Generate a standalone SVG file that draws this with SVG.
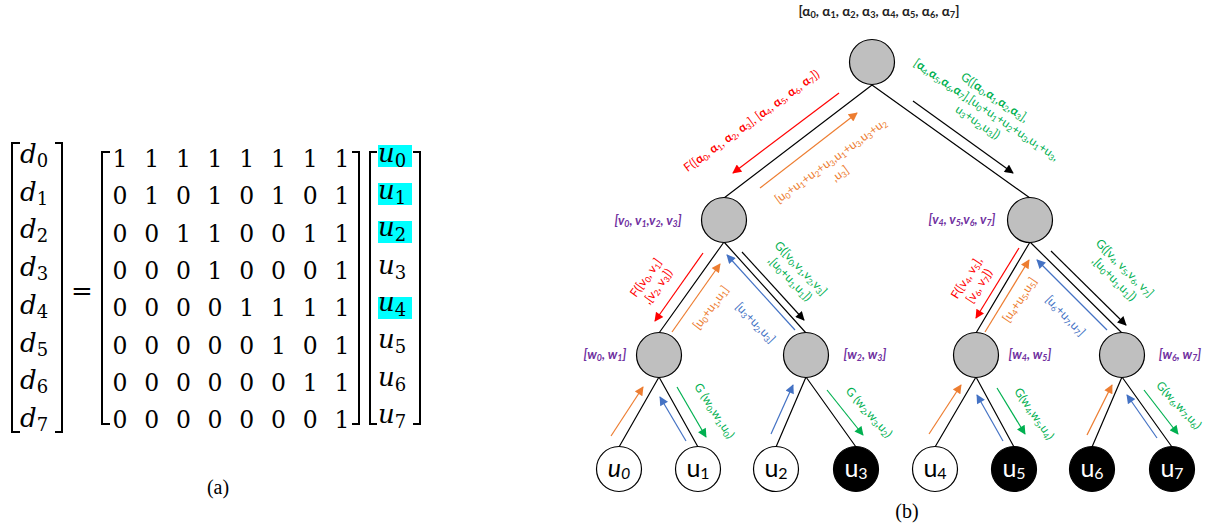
<svg xmlns="http://www.w3.org/2000/svg" width="1211" height="528" viewBox="0 0 1211 528">
<style>
.m{font-family:"DejaVu Serif",serif;fill:#000}
.mi{font-style:italic}
.br{fill:none;stroke:#000;stroke-width:2}
.hl{fill:#00FFFF}
.cap{font-family:"Liberation Serif",serif;font-size:20px;text-anchor:middle}
.edge{stroke:#000;stroke-width:1.2;fill:none}
.inner{fill:#BFBFBF;stroke:#000;stroke-width:1.2}
.lw{fill:#fff;stroke:#000;stroke-width:1.2}
.lb{fill:#000;stroke:#000;stroke-width:1.2}
.lt{font-family:Lato,"Open Sans",sans-serif;font-size:25px;text-anchor:middle}
.lt .s{font-size:64%;baseline-shift:-0.12em}
.lbl{font-family:Lato,"Open Sans",sans-serif;font-size:12px;text-anchor:middle}
.pl{font-family:Lato,"Open Sans",sans-serif;font-size:13px;font-weight:bold;font-style:italic;fill:#7030A0;text-anchor:middle}
.s{font-size:68%;baseline-shift:-0.25em}
.a{font-weight:bold}
.r{fill:#FF0000}.o{fill:#ED7D31}.b{fill:#4472C4}.g{fill:#00B050}
.ar{stroke-width:1.2;fill:none}
.ar.r{stroke:#FF0000}.ar.o{stroke:#ED7D31}.ar.b{stroke:#4472C4}.ar.g{stroke:#00B050}.ar.k{stroke:#000}
</style>
<defs>
<marker id="mr" viewBox="0 0 10 10" refX="9" refY="5" markerWidth="10" markerHeight="9" orient="auto" markerUnits="userSpaceOnUse"><path d="M0,0 L10,5 L0,10 z" fill="#FF0000"/></marker>
<marker id="mo" viewBox="0 0 10 10" refX="9" refY="5" markerWidth="10" markerHeight="9" orient="auto" markerUnits="userSpaceOnUse"><path d="M0,0 L10,5 L0,10 z" fill="#ED7D31"/></marker>
<marker id="mb" viewBox="0 0 10 10" refX="9" refY="5" markerWidth="10" markerHeight="9" orient="auto" markerUnits="userSpaceOnUse"><path d="M0,0 L10,5 L0,10 z" fill="#4472C4"/></marker>
<marker id="mg" viewBox="0 0 10 10" refX="9" refY="5" markerWidth="10" markerHeight="9" orient="auto" markerUnits="userSpaceOnUse"><path d="M0,0 L10,5 L0,10 z" fill="#00B050"/></marker>
<marker id="mk" viewBox="0 0 10 10" refX="9" refY="5" markerWidth="10" markerHeight="9" orient="auto" markerUnits="userSpaceOnUse"><path d="M0,0 L10,5 L0,10 z" fill="#000"/></marker>
</defs>

<g id="equation">
  <rect class="hl" x="378" y="145" width="34" height="22"/>
  <rect class="hl" x="378" y="183" width="34" height="22"/>
  <rect class="hl" x="378" y="221" width="34" height="22"/>
  <rect class="hl" x="378" y="297" width="34" height="22"/>
  <path class="br" d="M20,143 H12 V432 H20"/>
  <path class="br" d="M55,143 H62 V432 H55"/>
  <path class="br" d="M110,152 H102 V424 H110"/>
  <path class="br" d="M352,152 H359 V424 H352"/>
  <path class="br" d="M377,152 H370 V424 H377"/>
  <path class="br" d="M413,152 H420 V424 H413"/>
  <g class="m mi" font-size="26">
    <text x="20" y="163">d<tspan font-size="18" dy="4" font-style="normal">0</tspan></text>
    <text x="20" y="200.7">d<tspan font-size="18" dy="4" font-style="normal">1</tspan></text>
    <text x="20" y="238.4">d<tspan font-size="18" dy="4" font-style="normal">2</tspan></text>
    <text x="20" y="276.1">d<tspan font-size="18" dy="4" font-style="normal">3</tspan></text>
    <text x="20" y="313.8">d<tspan font-size="18" dy="4" font-style="normal">4</tspan></text>
    <text x="20" y="351.5">d<tspan font-size="18" dy="4" font-style="normal">5</tspan></text>
    <text x="20" y="389.2">d<tspan font-size="18" dy="4" font-style="normal">6</tspan></text>
    <text x="20" y="426.9">d<tspan font-size="18" dy="4" font-style="normal">7</tspan></text>
  </g>
  <text class="m" font-size="26" x="82" y="299.5" text-anchor="middle">=</text>
  <g class="m" font-size="23.5" text-anchor="middle">
    <text x="120 136 151.7 167.5 183.4 199 215.1 231 246.8 262.6 278.5 294.3 310.2 326 341.9" y="167">1 1 1 1 1 1 1 1</text>
    <text x="120 136 151.7 167.5 183.4 199 215.1 231 246.8 262.6 278.5 294.3 310.2 326 341.9" y="204.3">0 1 0 1 0 1 0 1</text>
    <text x="120 136 151.7 167.5 183.4 199 215.1 231 246.8 262.6 278.5 294.3 310.2 326 341.9" y="241.6">0 0 1 1 0 0 1 1</text>
    <text x="120 136 151.7 167.5 183.4 199 215.1 231 246.8 262.6 278.5 294.3 310.2 326 341.9" y="278.9">0 0 0 1 0 0 0 1</text>
    <text x="120 136 151.7 167.5 183.4 199 215.1 231 246.8 262.6 278.5 294.3 310.2 326 341.9" y="316.2">0 0 0 0 1 1 1 1</text>
    <text x="120 136 151.7 167.5 183.4 199 215.1 231 246.8 262.6 278.5 294.3 310.2 326 341.9" y="353.5">0 0 0 0 0 1 0 1</text>
    <text x="120 136 151.7 167.5 183.4 199 215.1 231 246.8 262.6 278.5 294.3 310.2 326 341.9" y="390.8">0 0 0 0 0 0 1 1</text>
    <text x="120 136 151.7 167.5 183.4 199 215.1 231 246.8 262.6 278.5 294.3 310.2 326 341.9" y="428.1">0 0 0 0 0 0 0 1</text>
  </g>
  <g class="m mi" font-size="26">
    <text x="378" y="161.7">u<tspan font-size="18" dy="5" font-style="normal">0</tspan></text>
    <text x="378" y="199">u<tspan font-size="18" dy="5" font-style="normal">1</tspan></text>
    <text x="378" y="236.3">u<tspan font-size="18" dy="5" font-style="normal">2</tspan></text>
    <text x="378" y="273.6">u<tspan font-size="18" dy="5" font-style="normal">3</tspan></text>
    <text x="378" y="310.9">u<tspan font-size="18" dy="5" font-style="normal">4</tspan></text>
    <text x="378" y="348.2">u<tspan font-size="18" dy="5" font-style="normal">5</tspan></text>
    <text x="378" y="385.5">u<tspan font-size="18" dy="5" font-style="normal">6</tspan></text>
    <text x="378" y="422.8">u<tspan font-size="18" dy="5" font-style="normal">7</tspan></text>
  </g>
  <text class="cap" x="218" y="494">(a)</text>
</g>

<g id="connectors">
  <path class="edge" d="M872,85 L724,198 M872,85 L1030,198 M724,242 L659,333 M724,242 L806,333 M1030,242 L976,333 M1030,242 L1122,333 M659,377 L619,447 M659,377 L698,447 M806,377 L776,447 M806,377 L856,447 M976,377 L935,447 M976,377 L1014,447 M1122,377 L1092,447 M1122,377 L1172,447"/>
  <line class="ar r" x1="839" y1="93" x2="733" y2="173" marker-end="url(#mr)"/>
  <line class="ar r" x1="703" y1="253" x2="655" y2="321" marker-end="url(#mr)"/>
  <line class="ar r" x1="1019" y1="248" x2="976" y2="318" marker-end="url(#mr)"/>
  <line class="ar o" x1="760" y1="188" x2="857" y2="113" marker-end="url(#mo)"/>
  <line class="ar o" x1="672" y1="332" x2="720" y2="264" marker-end="url(#mo)"/>
  <line class="ar o" x1="985" y1="332" x2="1029" y2="260" marker-end="url(#mo)"/>
  <line class="ar o" x1="611" y1="436" x2="643" y2="387" marker-end="url(#mo)"/>
  <line class="ar o" x1="929" y1="434" x2="961" y2="385" marker-end="url(#mo)"/>
  <line class="ar o" x1="1087" y1="435" x2="1112" y2="385" marker-end="url(#mo)"/>
  <line class="ar b" x1="795" y1="330" x2="727" y2="255" marker-end="url(#mb)"/>
  <line class="ar b" x1="1107" y1="330" x2="1037" y2="260" marker-end="url(#mb)"/>
  <line class="ar b" x1="686" y1="441" x2="660" y2="397" marker-end="url(#mb)"/>
  <line class="ar b" x1="771" y1="434" x2="793" y2="385" marker-end="url(#mb)"/>
  <line class="ar b" x1="1003" y1="441" x2="977" y2="395" marker-end="url(#mb)"/>
  <line class="ar b" x1="1157" y1="438" x2="1127" y2="395" marker-end="url(#mb)"/>
  <line class="ar k" x1="913" y1="101" x2="1013" y2="173" marker-end="url(#mk)"/>
  <line class="ar k" x1="742" y1="252" x2="804" y2="320" marker-end="url(#mk)"/>
  <line class="ar k" x1="1051" y1="251" x2="1126" y2="325" marker-end="url(#mk)"/>
  <line class="ar g" x1="677" y1="387" x2="706" y2="437" marker-end="url(#mg)"/>
  <line class="ar g" x1="827" y1="390" x2="863" y2="435" marker-end="url(#mg)"/>
  <line class="ar g" x1="997" y1="388" x2="1025" y2="434" marker-end="url(#mg)"/>
  <line class="ar g" x1="1144" y1="390" x2="1178" y2="434" marker-end="url(#mg)"/>
</g>

<g id="edge-labels">
  <g transform="translate(754,124) rotate(-36)"><text class="lbl r" font-size="13.5">F([<tspan class="a">α</tspan><tspan class="s">0</tspan>, <tspan class="a">α</tspan><tspan class="s">1</tspan>, <tspan class="a">α</tspan><tspan class="s">2</tspan>, <tspan class="a">α</tspan><tspan class="s">3</tspan>], [<tspan class="a">α</tspan><tspan class="s">4</tspan>, <tspan class="a">α</tspan><tspan class="s">5</tspan>, <tspan class="a">α</tspan><tspan class="s">6</tspan>, <tspan class="a">α</tspan><tspan class="s">7</tspan>])</text></g>
  <g transform="translate(833,164) rotate(-36)" class="lbl o" font-size="12.5">
    <text y="0">[u<tspan class="s">0</tspan>+u<tspan class="s">1</tspan>+u<tspan class="s">2</tspan>+u<tspan class="s">3</tspan>,u<tspan class="s">1</tspan>+u<tspan class="s">3</tspan>,u<tspan class="s">3</tspan>+u<tspan class="s">2</tspan></text>
    <text y="16">,u<tspan class="s">3</tspan>]</text>
  </g>
  <g transform="translate(984,113) rotate(34)" class="lbl g" font-size="12.5">
    <text y="-15">G([<tspan class="a">α</tspan><tspan class="s">0</tspan>,<tspan class="a">α</tspan><tspan class="s">1</tspan>,<tspan class="a">α</tspan><tspan class="s">2</tspan>,<tspan class="a">α</tspan><tspan class="s">3</tspan>],</text>
    <text y="0">[<tspan class="a">α</tspan><tspan class="s">4</tspan>,<tspan class="a">α</tspan><tspan class="s">5</tspan>,<tspan class="a">α</tspan><tspan class="s">6</tspan>,<tspan class="a">α</tspan><tspan class="s">7</tspan>],[u<tspan class="s">0</tspan>+u<tspan class="s">1</tspan>+u<tspan class="s">2</tspan>+u<tspan class="s">3</tspan>,u<tspan class="s">1</tspan>+u<tspan class="s">3</tspan>,</text>
    <text y="15">u<tspan class="s">3</tspan>+u<tspan class="s">2</tspan>,u<tspan class="s">3</tspan>])</text>
  </g>
  <g transform="translate(649,280) rotate(-54)" class="lbl r" font-size="11.5">
    <text y="0">F([v<tspan class="s">0</tspan>, v<tspan class="s">1</tspan>]</text>
    <text y="15">,[v<tspan class="s">2</tspan>, v<tspan class="s">3</tspan>])</text>
  </g>
  <g transform="translate(714,310) rotate(-53)"><text class="lbl o" font-size="11.5">[u<tspan class="s">0</tspan>+u<tspan class="s">1</tspan>,u<tspan class="s">1</tspan>]</text></g>
  <g transform="translate(752.5,325.5) rotate(46)"><text class="lbl b" font-size="11.5">[u<tspan class="s">3</tspan>+u<tspan class="s">2</tspan>,u<tspan class="s">3</tspan>]</text></g>
  <g transform="translate(798,271) rotate(46)" class="lbl g" font-size="11.5">
    <text y="0">G([v<tspan class="s">0</tspan>,v<tspan class="s">1</tspan>,v<tspan class="s">2</tspan>,v<tspan class="s">3</tspan>]</text>
    <text y="15">,[u<tspan class="s">0</tspan>+u<tspan class="s">1</tspan>,u<tspan class="s">1</tspan>])</text>
  </g>
  <g transform="translate(970,280) rotate(-57)" class="lbl r" font-size="11.5">
    <text y="0">F([v<tspan class="s">4</tspan>, v<tspan class="s">5</tspan>],</text>
    <text y="15">[v<tspan class="s">6</tspan>, v<tspan class="s">7</tspan>])</text>
  </g>
  <g transform="translate(1023,302) rotate(-56)"><text class="lbl o" font-size="11.5">[u<tspan class="s">4</tspan>+u<tspan class="s">5</tspan>,u<tspan class="s">5</tspan>]</text></g>
  <g transform="translate(1062.5,318.5) rotate(46)"><text class="lbl b" font-size="11.5">[u<tspan class="s">6</tspan>+u<tspan class="s">7</tspan>,u<tspan class="s">7</tspan>]</text></g>
  <g transform="translate(1122,271) rotate(45)" class="lbl g" font-size="11.5">
    <text y="0">G([v<tspan class="s">4</tspan>, v<tspan class="s">5</tspan>,v<tspan class="s">6</tspan>, v<tspan class="s">7</tspan>]</text>
    <text y="15">,[u<tspan class="s">0</tspan>+u<tspan class="s">1</tspan>,u<tspan class="s">1</tspan>])</text>
  </g>
  <g transform="translate(711,413) rotate(57)"><text class="lbl g" font-size="11.5">G (w<tspan class="s">0</tspan>,w<tspan class="s">1</tspan>,u<tspan class="s">0</tspan>)</text></g>
  <g transform="translate(866,415) rotate(48)"><text class="lbl g" font-size="11.5">G (w<tspan class="s">2</tspan>,w<tspan class="s">3</tspan>,u<tspan class="s">2</tspan>)</text></g>
  <g transform="translate(1031,416) rotate(55)"><text class="lbl g" font-size="11.5">G(w<tspan class="s">4</tspan>,w<tspan class="s">5</tspan>,u<tspan class="s">4</tspan>)</text></g>
  <g transform="translate(1176,408) rotate(47)"><text class="lbl g" font-size="11.5">G(w<tspan class="s">6</tspan>,w<tspan class="s">7</tspan>,u<tspan class="s">6</tspan>)</text></g>
</g>

<g id="root">
  <circle class="inner" cx="872" cy="62" r="22.5"/>
  <text x="879" y="16" font-family="Lato,'Open Sans',sans-serif" font-size="13.5" font-weight="bold" fill="#222" text-anchor="middle">[α<tspan class="s">0</tspan>, α<tspan class="s">1</tspan>, α<tspan class="s">2</tspan>, α<tspan class="s">3</tspan>, α<tspan class="s">4</tspan>, α<tspan class="s">5</tspan>, α<tspan class="s">6</tspan>, α<tspan class="s">7</tspan>]</text>
</g>
<g id="v-left">
  <circle class="inner" cx="724" cy="220" r="22.5"/>
  <text class="pl" x="648" y="225">[v<tspan class="s">0</tspan>, v<tspan class="s">1</tspan>,v<tspan class="s">2</tspan>, v<tspan class="s">3</tspan>]</text>
</g>
<g id="v-right">
  <circle class="inner" cx="1030" cy="220" r="22.5"/>
  <text class="pl" x="962" y="224">[v<tspan class="s">4</tspan>, v<tspan class="s">5</tspan>,v<tspan class="s">6</tspan>, v<tspan class="s">7</tspan>]</text>
</g>
<g id="w01">
  <circle class="inner" cx="659" cy="355" r="22.5"/>
  <text class="pl" x="605" y="359">[w<tspan class="s">0</tspan>, w<tspan class="s">1</tspan>]</text>
</g>
<g id="w23">
  <circle class="inner" cx="806" cy="355" r="22.5"/>
  <text class="pl" x="865" y="359">[w<tspan class="s">2</tspan>, w<tspan class="s">3</tspan>]</text>
</g>
<g id="w45">
  <circle class="inner" cx="976" cy="355" r="22.5"/>
  <text class="pl" x="1030" y="359">[w<tspan class="s">4</tspan>, w<tspan class="s">5</tspan>]</text>
</g>
<g id="w67">
  <circle class="inner" cx="1122" cy="355" r="22.5"/>
  <text class="pl" x="1180" y="359">[w<tspan class="s">6</tspan>, w<tspan class="s">7</tspan>]</text>
</g>
<g id="u0"><circle class="lw" cx="619" cy="469" r="22.5"/><text class="lt" x="619" y="477" font-style="italic">u<tspan class="s">0</tspan></text></g>
<g id="u1"><circle class="lw" cx="698" cy="469" r="22.5"/><text class="lt" x="698" y="477">u<tspan class="s">1</tspan></text></g>
<g id="u2"><circle class="lw" cx="776" cy="469" r="22.5"/><text class="lt" x="776" y="477">u<tspan class="s">2</tspan></text></g>
<g id="u3"><circle class="lb" cx="856" cy="469" r="22.5"/><text class="lt" x="856" y="477" fill="#fff">u<tspan class="s">3</tspan></text></g>
<g id="u4"><circle class="lw" cx="935" cy="469" r="22.5"/><text class="lt" x="935" y="477">u<tspan class="s">4</tspan></text></g>
<g id="u5"><circle class="lb" cx="1014" cy="469" r="22.5"/><text class="lt" x="1014" y="477" fill="#fff">u<tspan class="s">5</tspan></text></g>
<g id="u6"><circle class="lb" cx="1092" cy="469" r="22.5"/><text class="lt" x="1092" y="477" fill="#fff">u<tspan class="s">6</tspan></text></g>
<g id="u7"><circle class="lb" cx="1172" cy="469" r="22.5"/><text class="lt" x="1172" y="477" fill="#fff">u<tspan class="s">7</tspan></text></g>
<text class="cap" x="907" y="518">(b)</text>
</svg>
